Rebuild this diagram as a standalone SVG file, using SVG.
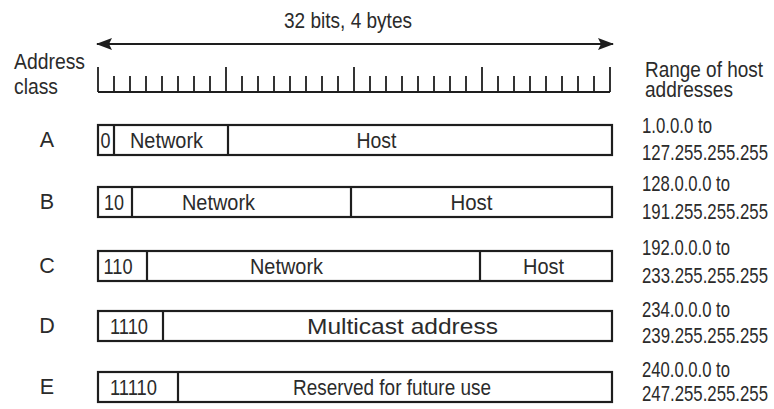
<svg xmlns="http://www.w3.org/2000/svg" width="774" height="409" viewBox="0 0 774 409">
  <style>
    text { font-family: "Liberation Sans", Arial, sans-serif; font-size: 21.5px; fill: #2b2b2b; }
    .mid { text-anchor: middle; }
    .box { fill: #ffffff; stroke: #1e1e1e; stroke-width: 2.2; }
    .div { stroke: #1e1e1e; stroke-width: 2.2; }
    .tick { stroke: #1e1e1e; stroke-width: 1.8; fill: none; }
    .dim { stroke: #1e1e1e; stroke-width: 2.2; fill: none; }
  </style>
  <defs>
    <marker id="arrowhead" viewBox="0 0 16 12" refX="15" refY="6" markerWidth="16" markerHeight="12" markerUnits="userSpaceOnUse" orient="auto-start-reverse">
      <path d="M0,0 L16,6 L0,12 L3,6 Z" fill="#1e1e1e"/>
    </marker>
  </defs>

  <rect width="774" height="409" fill="#ffffff"/>

  <!-- header labels -->
  <g id="header">
    <text x="348" y="28" class="mid" textLength="128" lengthAdjust="spacingAndGlyphs">32 bits, 4 bytes</text>
    <text x="14" y="69" textLength="71" lengthAdjust="spacingAndGlyphs">Address</text>
    <text x="14" y="94" textLength="44" lengthAdjust="spacingAndGlyphs">class</text>
    <text x="645" y="77" textLength="118" lengthAdjust="spacingAndGlyphs">Range of host</text>
    <text x="645" y="97" textLength="88" lengthAdjust="spacingAndGlyphs">addresses</text>
  </g>

  <!-- 32-bit dimension arrow -->
  <g id="connectors">
    <line class="dim" x1="97" y1="44" x2="613" y2="44" marker-start="url(#arrowhead)" marker-end="url(#arrowhead)"/>
  </g>

  <!-- bit ruler: one tick per bit, long ticks on byte boundaries -->
  <g id="ruler">
    <path class="tick" d="M98,92 H610"/>
    <path class="tick" d="M98,67 V92 M226,67 V92 M354,67 V92 M482,67 V92 M610,67 V92"/>
    <path class="tick" d="M114,76 V92 M130,76 V92 M146,76 V92 M162,76 V92 M178,76 V92 M194,76 V92 M210,76 V92
                          M242,76 V92 M258,76 V92 M274,76 V92 M290,76 V92 M306,76 V92 M322,76 V92 M338,76 V92
                          M370,76 V92 M386,76 V92 M402,76 V92 M418,76 V92 M434,76 V92 M450,76 V92 M466,76 V92
                          M498,76 V92 M514,76 V92 M530,76 V92 M546,76 V92 M562,76 V92 M578,76 V92 M594,76 V92"/>
  </g>

  <!-- Class A -->
  <g id="class-a">
    <text x="47" y="147" class="mid">A</text>
    <rect class="box" x="98" y="125" width="514" height="30"/>
    <line class="div" x1="114" y1="125" x2="114" y2="155"/>
    <line class="div" x1="228" y1="125" x2="228" y2="155"/>
    <text x="105.5" y="148" class="mid" textLength="10" lengthAdjust="spacingAndGlyphs">0</text>
    <text x="166.5" y="148" class="mid" textLength="73" lengthAdjust="spacingAndGlyphs">Network</text>
    <text x="376.5" y="148" class="mid" textLength="40" lengthAdjust="spacingAndGlyphs">Host</text>
    <text x="642" y="133" textLength="70" lengthAdjust="spacingAndGlyphs">1.0.0.0 to</text>
    <text x="642" y="160" textLength="126" lengthAdjust="spacingAndGlyphs">127.255.255.255</text>
  </g>

  <!-- Class B -->
  <g id="class-b">
    <text x="47" y="209" class="mid">B</text>
    <rect class="box" x="98" y="187" width="514" height="30"/>
    <line class="div" x1="132" y1="187" x2="132" y2="217"/>
    <line class="div" x1="351" y1="187" x2="351" y2="217"/>
    <text x="114" y="210" class="mid" textLength="20" lengthAdjust="spacingAndGlyphs">10</text>
    <text x="218.5" y="210" class="mid" textLength="73" lengthAdjust="spacingAndGlyphs">Network</text>
    <text x="471.5" y="210" class="mid" textLength="42" lengthAdjust="spacingAndGlyphs">Host</text>
    <text x="642" y="191" textLength="88" lengthAdjust="spacingAndGlyphs">128.0.0.0 to</text>
    <text x="642" y="219" textLength="126" lengthAdjust="spacingAndGlyphs">191.255.255.255</text>
  </g>

  <!-- Class C -->
  <g id="class-c">
    <text x="47" y="273" class="mid">C</text>
    <rect class="box" x="98" y="251" width="514" height="30"/>
    <line class="div" x1="147" y1="251" x2="147" y2="281"/>
    <line class="div" x1="480" y1="251" x2="480" y2="281"/>
    <text x="118" y="274" class="mid" textLength="29" lengthAdjust="spacingAndGlyphs">110</text>
    <text x="286.5" y="274" class="mid" textLength="73" lengthAdjust="spacingAndGlyphs">Network</text>
    <text x="543.5" y="274" class="mid" textLength="41" lengthAdjust="spacingAndGlyphs">Host</text>
    <text x="642" y="255" textLength="88" lengthAdjust="spacingAndGlyphs">192.0.0.0 to</text>
    <text x="642" y="283" textLength="126" lengthAdjust="spacingAndGlyphs">233.255.255.255</text>
  </g>

  <!-- Class D -->
  <g id="class-d">
    <text x="47" y="333" class="mid">D</text>
    <rect class="box" x="98" y="311" width="514" height="30"/>
    <line class="div" x1="163" y1="311" x2="163" y2="341"/>
    <text x="129" y="334" class="mid" textLength="38" lengthAdjust="spacingAndGlyphs">1110</text>
    <text x="402.5" y="334" class="mid" textLength="191" lengthAdjust="spacingAndGlyphs">Multicast address</text>
    <text x="642" y="317" textLength="88" lengthAdjust="spacingAndGlyphs">234.0.0.0 to</text>
    <text x="642" y="343" textLength="126" lengthAdjust="spacingAndGlyphs">239.255.255.255</text>
  </g>

  <!-- Class E -->
  <g id="class-e">
    <text x="47" y="394" class="mid">E</text>
    <rect class="box" x="98" y="372" width="514" height="30"/>
    <line class="div" x1="178" y1="372" x2="178" y2="402"/>
    <text x="133.5" y="395" class="mid" textLength="47" lengthAdjust="spacingAndGlyphs">11110</text>
    <text x="392" y="395" class="mid" textLength="198" lengthAdjust="spacingAndGlyphs">Reserved for future use</text>
    <text x="642" y="377" textLength="88" lengthAdjust="spacingAndGlyphs">240.0.0.0 to</text>
    <text x="642" y="401" textLength="126" lengthAdjust="spacingAndGlyphs">247.255.255.255</text>
  </g>
</svg>
